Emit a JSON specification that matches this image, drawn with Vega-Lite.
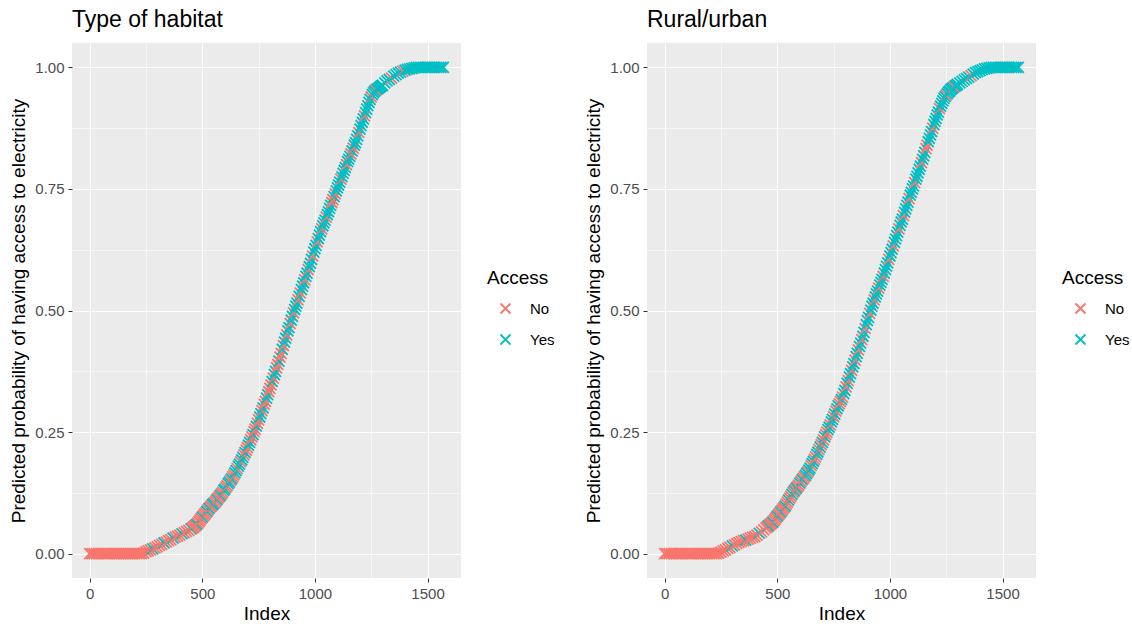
{
"$schema": "https://vega.github.io/schema/vega-lite/v6.json",
"background": "white",
"padding": {"left": 9, "top": 9, "right": 0, "bottom": 4},
"spacing": 29,
"resolve": {"legend": {"color": "independent"}},
"config": {
  "font": "Liberation Sans",
  "view": {"fill": "#EBEBEB", "stroke": null},
  "axis": {"domain": false, "gridColor": "white", "tickSize": 4, "labelColor": "#4D4D4D", "labelFontSize": 15, "labelPadding": 4, "titleFontSize": 19, "titleFontWeight": "normal", "titleColor": "black", "labelOverlap": false, "labelFlush": false},
  "legend": {"titleFontSize": 19, "titleFontWeight": "normal", "titleColor": "black", "labelFontSize": 15, "labelColor": "black", "symbolType": "M-1,-1L1,1M-1,1L1,-1", "symbolSize": 100, "symbolStrokeWidth": 1.8, "symbolFillColor": "transparent", "rowPadding": 12, "titlePadding": 13, "symbolOffset": 11, "labelOffset": 17, "orient": "none", "legendX": 415, "legendY": 226},
  "title": {"fontSize": 23, "fontWeight": "normal", "color": "black", "anchor": "start", "frame": "group", "offset": 11}
},
"datasets": {
"habitat": [
{"Index":0,"Probability":0,"Access":"No"},{"Index":10,"Probability":0,"Access":"No"},{"Index":20,"Probability":0,"Access":"No"},{"Index":30,"Probability":0,"Access":"No"},{"Index":40,"Probability":0,"Access":"No"},{"Index":50,"Probability":0,"Access":"No"},{"Index":60,"Probability":0,"Access":"No"},{"Index":70,"Probability":0,"Access":"No"},{"Index":80,"Probability":0,"Access":"No"},{"Index":90,"Probability":0,"Access":"No"},{"Index":100,"Probability":0,"Access":"No"},{"Index":110,"Probability":0,"Access":"No"},{"Index":120,"Probability":0,"Access":"No"},{"Index":130,"Probability":0,"Access":"No"},{"Index":140,"Probability":0,"Access":"No"},{"Index":150,"Probability":0,"Access":"No"},{"Index":160,"Probability":0,"Access":"No"},{"Index":170,"Probability":0,"Access":"No"},{"Index":180,"Probability":0,"Access":"No"},{"Index":190,"Probability":0,"Access":"No"},{"Index":200,"Probability":0,"Access":"No"},{"Index":210,"Probability":0,"Access":"No"},{"Index":220,"Probability":0,"Access":"No"},{"Index":230,"Probability":0,"Access":"No"},
{"Index":240,"Probability":0.001,"Access":"No"},{"Index":250,"Probability":0.004,"Access":"No"},{"Index":260,"Probability":0.006,"Access":"No"},{"Index":270,"Probability":0.008,"Access":"No"},{"Index":280,"Probability":0.010,"Access":"Yes"},{"Index":290,"Probability":0.012,"Access":"No"},{"Index":300,"Probability":0.014,"Access":"No"},{"Index":310,"Probability":0.017,"Access":"No"},{"Index":320,"Probability":0.019,"Access":"No"},{"Index":330,"Probability":0.022,"Access":"Yes"},{"Index":340,"Probability":0.024,"Access":"No"},{"Index":350,"Probability":0.027,"Access":"No"},{"Index":360,"Probability":0.029,"Access":"No"},{"Index":370,"Probability":0.032,"Access":"Yes"},{"Index":380,"Probability":0.034,"Access":"No"},{"Index":390,"Probability":0.036,"Access":"No"},{"Index":400,"Probability":0.038,"Access":"No"},{"Index":410,"Probability":0.041,"Access":"Yes"},{"Index":420,"Probability":0.043,"Access":"No"},{"Index":430,"Probability":0.046,"Access":"No"},{"Index":440,"Probability":0.048,"Access":"No"},
{"Index":450,"Probability":0.051,"Access":"Yes"},{"Index":455,"Probability":0.052,"Access":"No"},{"Index":460,"Probability":0.054,"Access":"No"},{"Index":465,"Probability":0.056,"Access":"No"},{"Index":470,"Probability":0.058,"Access":"No"},{"Index":475,"Probability":0.060,"Access":"Yes"},{"Index":480,"Probability":0.063,"Access":"No"},{"Index":485,"Probability":0.066,"Access":"No"},{"Index":490,"Probability":0.069,"Access":"No"},{"Index":495,"Probability":0.072,"Access":"No"},
{"Index":500,"Probability":0.075,"Access":"Yes"},{"Index":505,"Probability":0.078,"Access":"No"},{"Index":510,"Probability":0.081,"Access":"No"},{"Index":515,"Probability":0.084,"Access":"No"},{"Index":520,"Probability":0.087,"Access":"Yes"},{"Index":525,"Probability":0.090,"Access":"No"},{"Index":530,"Probability":0.093,"Access":"Yes"},{"Index":535,"Probability":0.096,"Access":"No"},{"Index":540,"Probability":0.098,"Access":"No"},{"Index":545,"Probability":0.101,"Access":"Yes"},
{"Index":550,"Probability":0.103,"Access":"Yes"},{"Index":555,"Probability":0.105,"Access":"No"},{"Index":560,"Probability":0.108,"Access":"No"},{"Index":565,"Probability":0.111,"Access":"Yes"},{"Index":570,"Probability":0.114,"Access":"No"},{"Index":575,"Probability":0.117,"Access":"No"},{"Index":580,"Probability":0.120,"Access":"Yes"},{"Index":585,"Probability":0.123,"Access":"No"},{"Index":590,"Probability":0.126,"Access":"No"},{"Index":595,"Probability":0.130,"Access":"Yes"},
{"Index":600,"Probability":0.133,"Access":"Yes"},{"Index":605,"Probability":0.137,"Access":"No"},{"Index":610,"Probability":0.140,"Access":"No"},{"Index":615,"Probability":0.144,"Access":"Yes"},{"Index":620,"Probability":0.147,"Access":"Yes"},{"Index":625,"Probability":0.151,"Access":"No"},{"Index":630,"Probability":0.154,"Access":"Yes"},{"Index":635,"Probability":0.158,"Access":"No"},{"Index":640,"Probability":0.162,"Access":"No"},{"Index":645,"Probability":0.166,"Access":"Yes"},
{"Index":650,"Probability":0.171,"Access":"Yes"},{"Index":655,"Probability":0.175,"Access":"No"},{"Index":660,"Probability":0.180,"Access":"Yes"},{"Index":665,"Probability":0.184,"Access":"Yes"},{"Index":670,"Probability":0.189,"Access":"No"},{"Index":675,"Probability":0.193,"Access":"Yes"},{"Index":680,"Probability":0.198,"Access":"Yes"},{"Index":685,"Probability":0.203,"Access":"No"},{"Index":690,"Probability":0.208,"Access":"Yes"},{"Index":695,"Probability":0.213,"Access":"No"},
{"Index":700,"Probability":0.218,"Access":"No"},{"Index":705,"Probability":0.223,"Access":"Yes"},{"Index":710,"Probability":0.229,"Access":"Yes"},{"Index":715,"Probability":0.234,"Access":"No"},{"Index":720,"Probability":0.240,"Access":"No"},{"Index":725,"Probability":0.245,"Access":"Yes"},{"Index":730,"Probability":0.251,"Access":"No"},{"Index":735,"Probability":0.256,"Access":"No"},{"Index":740,"Probability":0.262,"Access":"Yes"},{"Index":745,"Probability":0.268,"Access":"No"},
{"Index":750,"Probability":0.275,"Access":"No"},{"Index":755,"Probability":0.281,"Access":"Yes"},{"Index":760,"Probability":0.288,"Access":"Yes"},{"Index":765,"Probability":0.294,"Access":"No"},{"Index":770,"Probability":0.300,"Access":"Yes"},{"Index":775,"Probability":0.307,"Access":"No"},{"Index":780,"Probability":0.313,"Access":"No"},{"Index":785,"Probability":0.320,"Access":"Yes"},{"Index":790,"Probability":0.327,"Access":"Yes"},{"Index":795,"Probability":0.333,"Access":"No"},
{"Index":800,"Probability":0.340,"Access":"No"},{"Index":805,"Probability":0.347,"Access":"No"},{"Index":810,"Probability":0.354,"Access":"Yes"},{"Index":815,"Probability":0.361,"Access":"No"},{"Index":820,"Probability":0.368,"Access":"Yes"},{"Index":825,"Probability":0.375,"Access":"Yes"},{"Index":830,"Probability":0.382,"Access":"No"},{"Index":835,"Probability":0.389,"Access":"No"},{"Index":840,"Probability":0.396,"Access":"Yes"},{"Index":845,"Probability":0.404,"Access":"No"},
{"Index":850,"Probability":0.412,"Access":"No"},{"Index":855,"Probability":0.420,"Access":"Yes"},{"Index":860,"Probability":0.428,"Access":"No"},{"Index":865,"Probability":0.435,"Access":"Yes"},{"Index":870,"Probability":0.443,"Access":"Yes"},{"Index":875,"Probability":0.450,"Access":"No"},{"Index":880,"Probability":0.458,"Access":"Yes"},{"Index":885,"Probability":0.465,"Access":"Yes"},{"Index":890,"Probability":0.473,"Access":"No"},{"Index":895,"Probability":0.480,"Access":"Yes"},
{"Index":900,"Probability":0.488,"Access":"Yes"},{"Index":905,"Probability":0.495,"Access":"No"},{"Index":910,"Probability":0.502,"Access":"Yes"},{"Index":915,"Probability":0.509,"Access":"Yes"},{"Index":920,"Probability":0.515,"Access":"Yes"},{"Index":925,"Probability":0.522,"Access":"No"},{"Index":930,"Probability":0.529,"Access":"Yes"},{"Index":935,"Probability":0.536,"Access":"No"},{"Index":940,"Probability":0.543,"Access":"Yes"},{"Index":945,"Probability":0.550,"Access":"Yes"},
{"Index":950,"Probability":0.557,"Access":"Yes"},{"Index":955,"Probability":0.563,"Access":"No"},{"Index":960,"Probability":0.570,"Access":"Yes"},{"Index":965,"Probability":0.577,"Access":"Yes"},{"Index":970,"Probability":0.584,"Access":"No"},{"Index":975,"Probability":0.590,"Access":"Yes"},{"Index":980,"Probability":0.597,"Access":"Yes"},{"Index":985,"Probability":0.605,"Access":"Yes"},{"Index":990,"Probability":0.612,"Access":"No"},{"Index":995,"Probability":0.620,"Access":"Yes"},
{"Index":1000,"Probability":0.627,"Access":"Yes"},{"Index":1005,"Probability":0.634,"Access":"Yes"},{"Index":1010,"Probability":0.641,"Access":"No"},{"Index":1015,"Probability":0.648,"Access":"Yes"},{"Index":1020,"Probability":0.655,"Access":"Yes"},{"Index":1025,"Probability":0.662,"Access":"Yes"},{"Index":1030,"Probability":0.668,"Access":"No"},{"Index":1035,"Probability":0.674,"Access":"Yes"},{"Index":1040,"Probability":0.680,"Access":"Yes"},{"Index":1045,"Probability":0.686,"Access":"Yes"},
{"Index":1050,"Probability":0.692,"Access":"No"},{"Index":1055,"Probability":0.697,"Access":"Yes"},{"Index":1060,"Probability":0.703,"Access":"Yes"},{"Index":1065,"Probability":0.710,"Access":"Yes"},{"Index":1070,"Probability":0.716,"Access":"Yes"},{"Index":1075,"Probability":0.722,"Access":"No"},{"Index":1080,"Probability":0.728,"Access":"No"},{"Index":1085,"Probability":0.734,"Access":"Yes"},{"Index":1090,"Probability":0.740,"Access":"No"},{"Index":1095,"Probability":0.746,"Access":"Yes"},
{"Index":1100,"Probability":0.752,"Access":"Yes"},{"Index":1105,"Probability":0.758,"Access":"Yes"},{"Index":1110,"Probability":0.764,"Access":"Yes"},{"Index":1115,"Probability":0.770,"Access":"No"},{"Index":1120,"Probability":0.775,"Access":"Yes"},{"Index":1125,"Probability":0.782,"Access":"Yes"},{"Index":1130,"Probability":0.788,"Access":"Yes"},{"Index":1135,"Probability":0.794,"Access":"Yes"},{"Index":1140,"Probability":0.800,"Access":"No"},{"Index":1145,"Probability":0.806,"Access":"Yes"},
{"Index":1150,"Probability":0.811,"Access":"Yes"},{"Index":1155,"Probability":0.817,"Access":"Yes"},{"Index":1160,"Probability":0.822,"Access":"No"},{"Index":1165,"Probability":0.828,"Access":"Yes"},{"Index":1170,"Probability":0.834,"Access":"No"},{"Index":1175,"Probability":0.840,"Access":"Yes"},{"Index":1180,"Probability":0.845,"Access":"Yes"},{"Index":1185,"Probability":0.852,"Access":"Yes"},{"Index":1190,"Probability":0.859,"Access":"Yes"},{"Index":1195,"Probability":0.866,"Access":"No"},
{"Index":1200,"Probability":0.873,"Access":"Yes"},{"Index":1205,"Probability":0.880,"Access":"Yes"},{"Index":1210,"Probability":0.887,"Access":"Yes"},{"Index":1215,"Probability":0.894,"Access":"Yes"},{"Index":1220,"Probability":0.900,"Access":"No"},{"Index":1225,"Probability":0.907,"Access":"Yes"},{"Index":1230,"Probability":0.914,"Access":"Yes"},{"Index":1235,"Probability":0.921,"Access":"Yes"},{"Index":1240,"Probability":0.928,"Access":"Yes"},{"Index":1245,"Probability":0.934,"Access":"Yes"},
{"Index":1250,"Probability":0.939,"Access":"No"},{"Index":1255,"Probability":0.944,"Access":"Yes"},{"Index":1260,"Probability":0.948,"Access":"Yes"},{"Index":1265,"Probability":0.951,"Access":"Yes"},{"Index":1270,"Probability":0.953,"Access":"No"},{"Index":1275,"Probability":0.955,"Access":"Yes"},{"Index":1280,"Probability":0.956,"Access":"Yes"},{"Index":1285,"Probability":0.958,"Access":"Yes"},{"Index":1290,"Probability":0.960,"Access":"Yes"},{"Index":1295,"Probability":0.962,"Access":"Yes"},
{"Index":1300,"Probability":0.963,"Access":"Yes"},{"Index":1310,"Probability":0.968,"Access":"Yes"},{"Index":1320,"Probability":0.972,"Access":"Yes"},{"Index":1330,"Probability":0.975,"Access":"Yes"},{"Index":1340,"Probability":0.978,"Access":"No"},{"Index":1350,"Probability":0.982,"Access":"Yes"},{"Index":1360,"Probability":0.985,"Access":"Yes"},{"Index":1370,"Probability":0.988,"Access":"Yes"},{"Index":1380,"Probability":0.990,"Access":"Yes"},{"Index":1390,"Probability":0.992,"Access":"No"},{"Index":1400,"Probability":0.994,"Access":"Yes"},{"Index":1410,"Probability":0.996,"Access":"Yes"},{"Index":1420,"Probability":0.997,"Access":"Yes"},{"Index":1430,"Probability":0.998,"Access":"Yes"},{"Index":1440,"Probability":0.999,"Access":"Yes"},
{"Index":1450,"Probability":1,"Access":"Yes"},{"Index":1460,"Probability":1,"Access":"Yes"},{"Index":1470,"Probability":1,"Access":"Yes"},{"Index":1480,"Probability":1,"Access":"Yes"},{"Index":1490,"Probability":1,"Access":"Yes"},{"Index":1500,"Probability":1,"Access":"Yes"},{"Index":1510,"Probability":1,"Access":"Yes"},{"Index":1520,"Probability":1,"Access":"Yes"},{"Index":1530,"Probability":1,"Access":"Yes"},{"Index":1540,"Probability":1,"Access":"Yes"},{"Index":1550,"Probability":1,"Access":"Yes"},{"Index":1560,"Probability":1,"Access":"Yes"},{"Index":1570,"Probability":1,"Access":"Yes"}
],
"rural": [
{"Index":0,"Probability":0,"Access":"No"},{"Index":10,"Probability":0,"Access":"No"},{"Index":20,"Probability":0,"Access":"No"},{"Index":30,"Probability":0,"Access":"No"},{"Index":40,"Probability":0,"Access":"No"},{"Index":50,"Probability":0,"Access":"No"},{"Index":60,"Probability":0,"Access":"No"},{"Index":70,"Probability":0,"Access":"No"},{"Index":80,"Probability":0,"Access":"No"},{"Index":90,"Probability":0,"Access":"No"},{"Index":100,"Probability":0,"Access":"No"},{"Index":110,"Probability":0,"Access":"No"},{"Index":120,"Probability":0,"Access":"No"},{"Index":130,"Probability":0,"Access":"No"},{"Index":140,"Probability":0,"Access":"No"},{"Index":150,"Probability":0,"Access":"No"},{"Index":160,"Probability":0,"Access":"No"},{"Index":170,"Probability":0,"Access":"No"},{"Index":180,"Probability":0,"Access":"No"},{"Index":190,"Probability":0,"Access":"No"},{"Index":200,"Probability":0,"Access":"No"},{"Index":210,"Probability":0,"Access":"No"},{"Index":220,"Probability":0,"Access":"No"},{"Index":230,"Probability":0,"Access":"No"},
{"Index":240,"Probability":0.001,"Access":"No"},{"Index":250,"Probability":0.003,"Access":"No"},{"Index":260,"Probability":0.006,"Access":"No"},{"Index":270,"Probability":0.008,"Access":"No"},{"Index":280,"Probability":0.011,"Access":"No"},{"Index":290,"Probability":0.013,"Access":"No"},{"Index":300,"Probability":0.016,"Access":"Yes"},{"Index":310,"Probability":0.018,"Access":"No"},{"Index":320,"Probability":0.021,"Access":"No"},{"Index":330,"Probability":0.023,"Access":"No"},{"Index":340,"Probability":0.025,"Access":"No"},{"Index":350,"Probability":0.027,"Access":"No"},{"Index":360,"Probability":0.028,"Access":"Yes"},{"Index":370,"Probability":0.030,"Access":"No"},{"Index":380,"Probability":0.032,"Access":"No"},{"Index":390,"Probability":0.034,"Access":"No"},{"Index":400,"Probability":0.035,"Access":"No"},{"Index":410,"Probability":0.038,"Access":"No"},{"Index":420,"Probability":0.042,"Access":"Yes"},{"Index":430,"Probability":0.045,"Access":"No"},{"Index":440,"Probability":0.049,"Access":"No"},
{"Index":450,"Probability":0.053,"Access":"No"},{"Index":455,"Probability":0.055,"Access":"No"},{"Index":460,"Probability":0.057,"Access":"Yes"},{"Index":465,"Probability":0.059,"Access":"No"},{"Index":470,"Probability":0.061,"Access":"No"},{"Index":475,"Probability":0.063,"Access":"No"},{"Index":480,"Probability":0.065,"Access":"Yes"},{"Index":485,"Probability":0.068,"Access":"No"},{"Index":490,"Probability":0.071,"Access":"No"},{"Index":495,"Probability":0.074,"Access":"No"},
{"Index":500,"Probability":0.077,"Access":"Yes"},{"Index":505,"Probability":0.080,"Access":"No"},{"Index":510,"Probability":0.083,"Access":"No"},{"Index":515,"Probability":0.086,"Access":"Yes"},{"Index":520,"Probability":0.089,"Access":"No"},{"Index":525,"Probability":0.092,"Access":"No"},{"Index":530,"Probability":0.095,"Access":"No"},{"Index":535,"Probability":0.098,"Access":"Yes"},{"Index":540,"Probability":0.102,"Access":"No"},{"Index":545,"Probability":0.106,"Access":"No"},
{"Index":550,"Probability":0.110,"Access":"Yes"},{"Index":555,"Probability":0.114,"Access":"No"},{"Index":560,"Probability":0.118,"Access":"No"},{"Index":565,"Probability":0.122,"Access":"Yes"},{"Index":570,"Probability":0.126,"Access":"No"},{"Index":575,"Probability":0.129,"Access":"Yes"},{"Index":580,"Probability":0.132,"Access":"No"},{"Index":585,"Probability":0.135,"Access":"Yes"},{"Index":590,"Probability":0.138,"Access":"No"},{"Index":595,"Probability":0.141,"Access":"No"},
{"Index":600,"Probability":0.145,"Access":"Yes"},{"Index":605,"Probability":0.148,"Access":"No"},{"Index":610,"Probability":0.152,"Access":"Yes"},{"Index":615,"Probability":0.155,"Access":"No"},{"Index":620,"Probability":0.158,"Access":"No"},{"Index":625,"Probability":0.161,"Access":"Yes"},{"Index":630,"Probability":0.165,"Access":"Yes"},{"Index":635,"Probability":0.168,"Access":"No"},{"Index":640,"Probability":0.172,"Access":"Yes"},{"Index":645,"Probability":0.176,"Access":"Yes"},
{"Index":650,"Probability":0.181,"Access":"No"},{"Index":655,"Probability":0.185,"Access":"Yes"},{"Index":660,"Probability":0.190,"Access":"Yes"},{"Index":665,"Probability":0.194,"Access":"No"},{"Index":670,"Probability":0.199,"Access":"No"},{"Index":675,"Probability":0.204,"Access":"Yes"},{"Index":680,"Probability":0.209,"Access":"Yes"},{"Index":685,"Probability":0.214,"Access":"No"},{"Index":690,"Probability":0.219,"Access":"Yes"},{"Index":695,"Probability":0.224,"Access":"No"},
{"Index":700,"Probability":0.229,"Access":"Yes"},{"Index":705,"Probability":0.234,"Access":"No"},{"Index":710,"Probability":0.240,"Access":"Yes"},{"Index":715,"Probability":0.245,"Access":"No"},{"Index":720,"Probability":0.250,"Access":"No"},{"Index":725,"Probability":0.255,"Access":"Yes"},{"Index":730,"Probability":0.260,"Access":"Yes"},{"Index":735,"Probability":0.265,"Access":"No"},{"Index":740,"Probability":0.271,"Access":"Yes"},{"Index":745,"Probability":0.276,"Access":"Yes"},
{"Index":750,"Probability":0.282,"Access":"No"},{"Index":755,"Probability":0.287,"Access":"Yes"},{"Index":760,"Probability":0.293,"Access":"No"},{"Index":765,"Probability":0.298,"Access":"Yes"},{"Index":770,"Probability":0.304,"Access":"Yes"},{"Index":775,"Probability":0.308,"Access":"No"},{"Index":780,"Probability":0.313,"Access":"No"},{"Index":785,"Probability":0.317,"Access":"Yes"},{"Index":790,"Probability":0.322,"Access":"No"},{"Index":795,"Probability":0.329,"Access":"Yes"},
{"Index":800,"Probability":0.336,"Access":"Yes"},{"Index":805,"Probability":0.343,"Access":"No"},{"Index":810,"Probability":0.350,"Access":"Yes"},{"Index":815,"Probability":0.356,"Access":"No"},{"Index":820,"Probability":0.363,"Access":"Yes"},{"Index":825,"Probability":0.370,"Access":"Yes"},{"Index":830,"Probability":0.377,"Access":"No"},{"Index":835,"Probability":0.384,"Access":"Yes"},{"Index":840,"Probability":0.391,"Access":"Yes"},{"Index":845,"Probability":0.398,"Access":"No"},
{"Index":850,"Probability":0.405,"Access":"Yes"},{"Index":855,"Probability":0.412,"Access":"Yes"},{"Index":860,"Probability":0.419,"Access":"No"},{"Index":865,"Probability":0.426,"Access":"Yes"},{"Index":870,"Probability":0.433,"Access":"Yes"},{"Index":875,"Probability":0.440,"Access":"No"},{"Index":880,"Probability":0.447,"Access":"Yes"},{"Index":885,"Probability":0.455,"Access":"Yes"},{"Index":890,"Probability":0.463,"Access":"No"},{"Index":895,"Probability":0.471,"Access":"Yes"},
{"Index":900,"Probability":0.479,"Access":"Yes"},{"Index":905,"Probability":0.486,"Access":"Yes"},{"Index":910,"Probability":0.494,"Access":"No"},{"Index":915,"Probability":0.501,"Access":"Yes"},{"Index":920,"Probability":0.509,"Access":"Yes"},{"Index":925,"Probability":0.515,"Access":"Yes"},{"Index":930,"Probability":0.522,"Access":"No"},{"Index":935,"Probability":0.528,"Access":"Yes"},{"Index":940,"Probability":0.534,"Access":"Yes"},{"Index":945,"Probability":0.540,"Access":"Yes"},
{"Index":950,"Probability":0.546,"Access":"No"},{"Index":955,"Probability":0.552,"Access":"Yes"},{"Index":960,"Probability":0.558,"Access":"Yes"},{"Index":965,"Probability":0.564,"Access":"Yes"},{"Index":970,"Probability":0.570,"Access":"No"},{"Index":975,"Probability":0.577,"Access":"Yes"},{"Index":980,"Probability":0.584,"Access":"Yes"},{"Index":985,"Probability":0.591,"Access":"Yes"},{"Index":990,"Probability":0.598,"Access":"Yes"},{"Index":995,"Probability":0.605,"Access":"No"},
{"Index":1000,"Probability":0.612,"Access":"Yes"},{"Index":1005,"Probability":0.619,"Access":"Yes"},{"Index":1010,"Probability":0.626,"Access":"Yes"},{"Index":1015,"Probability":0.633,"Access":"No"},{"Index":1020,"Probability":0.640,"Access":"Yes"},{"Index":1025,"Probability":0.647,"Access":"Yes"},{"Index":1030,"Probability":0.654,"Access":"Yes"},{"Index":1035,"Probability":0.661,"Access":"Yes"},{"Index":1040,"Probability":0.668,"Access":"No"},{"Index":1045,"Probability":0.675,"Access":"Yes"},
{"Index":1050,"Probability":0.682,"Access":"Yes"},{"Index":1055,"Probability":0.688,"Access":"Yes"},{"Index":1060,"Probability":0.695,"Access":"No"},{"Index":1065,"Probability":0.702,"Access":"Yes"},{"Index":1070,"Probability":0.709,"Access":"Yes"},{"Index":1075,"Probability":0.716,"Access":"Yes"},{"Index":1080,"Probability":0.723,"Access":"Yes"},{"Index":1085,"Probability":0.730,"Access":"No"},{"Index":1090,"Probability":0.737,"Access":"Yes"},{"Index":1095,"Probability":0.743,"Access":"Yes"},
{"Index":1100,"Probability":0.750,"Access":"Yes"},{"Index":1105,"Probability":0.756,"Access":"Yes"},{"Index":1110,"Probability":0.763,"Access":"No"},{"Index":1115,"Probability":0.770,"Access":"Yes"},{"Index":1120,"Probability":0.776,"Access":"Yes"},{"Index":1125,"Probability":0.783,"Access":"Yes"},{"Index":1130,"Probability":0.790,"Access":"Yes"},{"Index":1135,"Probability":0.797,"Access":"Yes"},{"Index":1140,"Probability":0.804,"Access":"No"},{"Index":1145,"Probability":0.811,"Access":"Yes"},
{"Index":1150,"Probability":0.818,"Access":"Yes"},{"Index":1155,"Probability":0.825,"Access":"Yes"},{"Index":1160,"Probability":0.833,"Access":"No"},{"Index":1165,"Probability":0.840,"Access":"No"},{"Index":1170,"Probability":0.847,"Access":"Yes"},{"Index":1175,"Probability":0.854,"Access":"Yes"},{"Index":1180,"Probability":0.861,"Access":"Yes"},{"Index":1185,"Probability":0.868,"Access":"Yes"},{"Index":1190,"Probability":0.875,"Access":"No"},{"Index":1195,"Probability":0.882,"Access":"Yes"},
{"Index":1200,"Probability":0.889,"Access":"Yes"},{"Index":1205,"Probability":0.895,"Access":"Yes"},{"Index":1210,"Probability":0.902,"Access":"Yes"},{"Index":1215,"Probability":0.908,"Access":"Yes"},{"Index":1220,"Probability":0.915,"Access":"No"},{"Index":1225,"Probability":0.920,"Access":"Yes"},{"Index":1230,"Probability":0.926,"Access":"Yes"},{"Index":1235,"Probability":0.931,"Access":"Yes"},{"Index":1240,"Probability":0.936,"Access":"Yes"},{"Index":1245,"Probability":0.940,"Access":"Yes"},
{"Index":1250,"Probability":0.943,"Access":"No"},{"Index":1255,"Probability":0.946,"Access":"Yes"},{"Index":1260,"Probability":0.949,"Access":"Yes"},{"Index":1265,"Probability":0.951,"Access":"Yes"},{"Index":1270,"Probability":0.954,"Access":"Yes"},{"Index":1275,"Probability":0.956,"Access":"Yes"},{"Index":1280,"Probability":0.958,"Access":"Yes"},{"Index":1285,"Probability":0.960,"Access":"No"},{"Index":1290,"Probability":0.962,"Access":"Yes"},{"Index":1295,"Probability":0.963,"Access":"Yes"},
{"Index":1300,"Probability":0.965,"Access":"Yes"},{"Index":1310,"Probability":0.968,"Access":"Yes"},{"Index":1320,"Probability":0.971,"Access":"Yes"},{"Index":1330,"Probability":0.974,"Access":"Yes"},{"Index":1340,"Probability":0.977,"Access":"Yes"},{"Index":1350,"Probability":0.980,"Access":"Yes"},{"Index":1360,"Probability":0.983,"Access":"No"},{"Index":1370,"Probability":0.986,"Access":"Yes"},{"Index":1380,"Probability":0.989,"Access":"Yes"},{"Index":1390,"Probability":0.991,"Access":"Yes"},{"Index":1400,"Probability":0.993,"Access":"Yes"},{"Index":1410,"Probability":0.995,"Access":"Yes"},{"Index":1420,"Probability":0.997,"Access":"Yes"},{"Index":1430,"Probability":0.998,"Access":"Yes"},{"Index":1440,"Probability":0.999,"Access":"Yes"},
{"Index":1450,"Probability":1,"Access":"Yes"},{"Index":1460,"Probability":1,"Access":"Yes"},{"Index":1470,"Probability":1,"Access":"Yes"},{"Index":1480,"Probability":1,"Access":"Yes"},{"Index":1490,"Probability":1,"Access":"Yes"},{"Index":1500,"Probability":1,"Access":"Yes"},{"Index":1510,"Probability":1,"Access":"Yes"},{"Index":1520,"Probability":1,"Access":"Yes"},{"Index":1530,"Probability":1,"Access":"Yes"},{"Index":1540,"Probability":1,"Access":"Yes"},{"Index":1550,"Probability":1,"Access":"Yes"},{"Index":1560,"Probability":1,"Access":"Yes"},{"Index":1570,"Probability":1,"Access":"Yes"}
]
},
"hconcat": [
{
  "title": "Type of habitat",
  "width": 389, "height": 535,
  "data": {"name": "habitat"},
  "mark": {"type": "point", "shape": "M-1,-1L1,1M-1,1L1,-1", "filled": false, "strokeWidth": 1.8, "size": 120, "opacity": 1},
  "encoding": {
    "x": {"field": "Index", "type": "quantitative", "scale": {"domain": [-78.5, 1648.5], "nice": false, "zero": false},
      "axis": {"title": "Index", "values": [0,250,500,750,1000,1250,1500], "labelExpr": "datum.value % 500 === 0 ? datum.label : ''", "format": "d",
        "gridWidth": {"condition": {"test": "datum.value % 500 === 0", "value": 1.1}, "value": 0.55},
        "tickColor": {"condition": {"test": "datum.value % 500 === 0", "value": "#333333"}, "value": "transparent"}, "titlePadding": 3}},
    "y": {"field": "Probability", "type": "quantitative", "scale": {"domain": [-0.05, 1.05], "nice": false, "zero": false},
      "axis": {"title": "Predicted probability of having access to electricity", "values": [0,0.125,0.25,0.375,0.5,0.625,0.75,0.875,1], "format": ".2f", "labelExpr": "(datum.value*4) % 1 === 0 ? datum.label : ''",
        "gridWidth": {"condition": {"test": "(datum.value*4) % 1 === 0", "value": 1.1}, "value": 0.55},
        "tickColor": {"condition": {"test": "(datum.value*4) % 1 === 0", "value": "#333333"}, "value": "transparent"}, "titlePadding": 6}},
    "color": {"field": "Access", "type": "nominal", "scale": {"domain": ["No", "Yes"], "range": ["#F8766D", "#00BFC4"]}, "legend": {"title": "Access"}}
  }
},
{
  "title": "Rural/urban",
  "width": 389, "height": 535,
  "data": {"name": "rural"},
  "mark": {"type": "point", "shape": "M-1,-1L1,1M-1,1L1,-1", "filled": false, "strokeWidth": 1.8, "size": 120, "opacity": 1},
  "encoding": {
    "x": {"field": "Index", "type": "quantitative", "scale": {"domain": [-78.5, 1648.5], "nice": false, "zero": false},
      "axis": {"title": "Index", "values": [0,250,500,750,1000,1250,1500], "labelExpr": "datum.value % 500 === 0 ? datum.label : ''", "format": "d",
        "gridWidth": {"condition": {"test": "datum.value % 500 === 0", "value": 1.1}, "value": 0.55},
        "tickColor": {"condition": {"test": "datum.value % 500 === 0", "value": "#333333"}, "value": "transparent"}, "titlePadding": 3}},
    "y": {"field": "Probability", "type": "quantitative", "scale": {"domain": [-0.05, 1.05], "nice": false, "zero": false},
      "axis": {"title": "Predicted probability of having access to electricity", "values": [0,0.125,0.25,0.375,0.5,0.625,0.75,0.875,1], "format": ".2f", "labelExpr": "(datum.value*4) % 1 === 0 ? datum.label : ''",
        "gridWidth": {"condition": {"test": "(datum.value*4) % 1 === 0", "value": 1.1}, "value": 0.55},
        "tickColor": {"condition": {"test": "(datum.value*4) % 1 === 0", "value": "#333333"}, "value": "transparent"}, "titlePadding": 6}},
    "color": {"field": "Access", "type": "nominal", "scale": {"domain": ["No", "Yes"], "range": ["#F8766D", "#00BFC4"]}, "legend": {"title": "Access"}}
  }
}
]
}
